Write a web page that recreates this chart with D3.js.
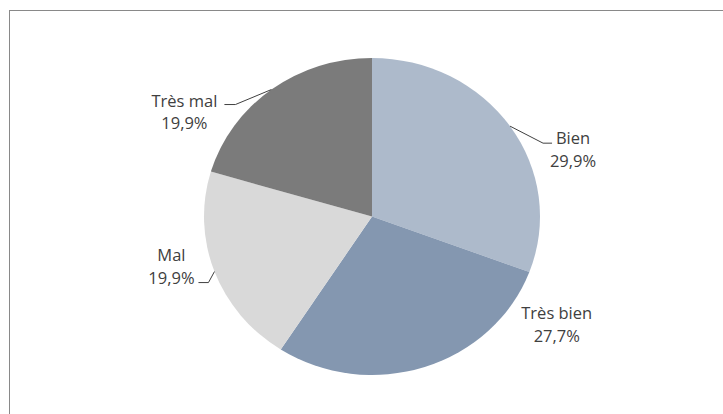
<!DOCTYPE html>
<html><head><meta charset="utf-8">
<script src="https://cdn.jsdelivr.net/npm/d3@7/dist/d3.min.js"></script>
<style>html,body{margin:0;padding:0;background:#fff;overflow:hidden}</style>
</head><body>
<script>
const categories = ["Bien", "Très bien", "Mal", "Très mal"];
const values = [29.9, 27.7, 19.9, 19.9];
const valueLabels = ["29,9%", "27,7%", "19,9%", "19,9%"];
const colors = ["#adbacb", "#8497b0", "#d9d9d9", "#7b7b7b"];

// label layout offsets relative to the slice edge point (layout, not data)
const labelLayout = {
  "Bien":      {leader: [[33,17],[42,17]], tx: 63, ty: [18, 41]},
  "Très bien": {leader: null, tx: 132, ty: [-48, -25]},
  "Mal":       {leader: [[-6,11],[-16,11]], tx: -43, ty: [-11, 12]},
  "Très mal":  {leader: [[-36,15],[-47,15]], tx: -87, ty: [17, 39]}
};

const W = 723, H = 414;
const cx = 372, cy = 216.5, r = 158.5, sx = 1.06;

const svg = d3.select("body").append("svg").attr("width", W).attr("height", H);
svg.append("rect").attr("x", 9.5).attr("y", 10.5).attr("width", W + 20).attr("height", H + 20)
  .attr("fill", "#fff").attr("stroke", "#898989").attr("stroke-width", 1);

const data = categories.map((c, i) => ({cat: c, value: values[i], label: valueLabels[i], color: colors[i]}));
const pie = d3.pie().value(d => d.value).sort(null);
const arcs = pie(data);
const arc = d3.arc().innerRadius(0).outerRadius(r);

const g = svg.append("g").attr("transform", `translate(${cx},${cy}) scale(${sx},1)`);
g.selectAll("path").data(arcs).join("path")
  .attr("d", arc).attr("fill", d => d.data.color);

const lab = svg.append("g").attr("font-family", "'Open Sans', sans-serif")
  .attr("font-size", "16.5px").attr("fill", "#404040");

arcs.forEach(a => {
  const mid = (a.startAngle + a.endAngle) / 2;
  const ex = cx + Math.sin(mid) * r * sx;
  const ey = cy - Math.cos(mid) * r;
  const L = labelLayout[a.data.cat];
  if (L.leader) {
    const pts = [[ex, ey]].concat(L.leader.map(p => [ex + p[0], ey + p[1]]));
    lab.append("path").attr("d", d3.line()(pts)).attr("fill", "none")
      .attr("stroke", "#404040").attr("stroke-width", 1);
  }
  const t = lab.append("text").attr("text-anchor", "middle");
  t.append("tspan").attr("x", ex + L.tx).attr("y", ey + L.ty[0]).text(a.data.cat);
  t.append("tspan").attr("x", ex + L.tx).attr("y", ey + L.ty[1]).text(a.data.label);
});
</script>
</body></html>
